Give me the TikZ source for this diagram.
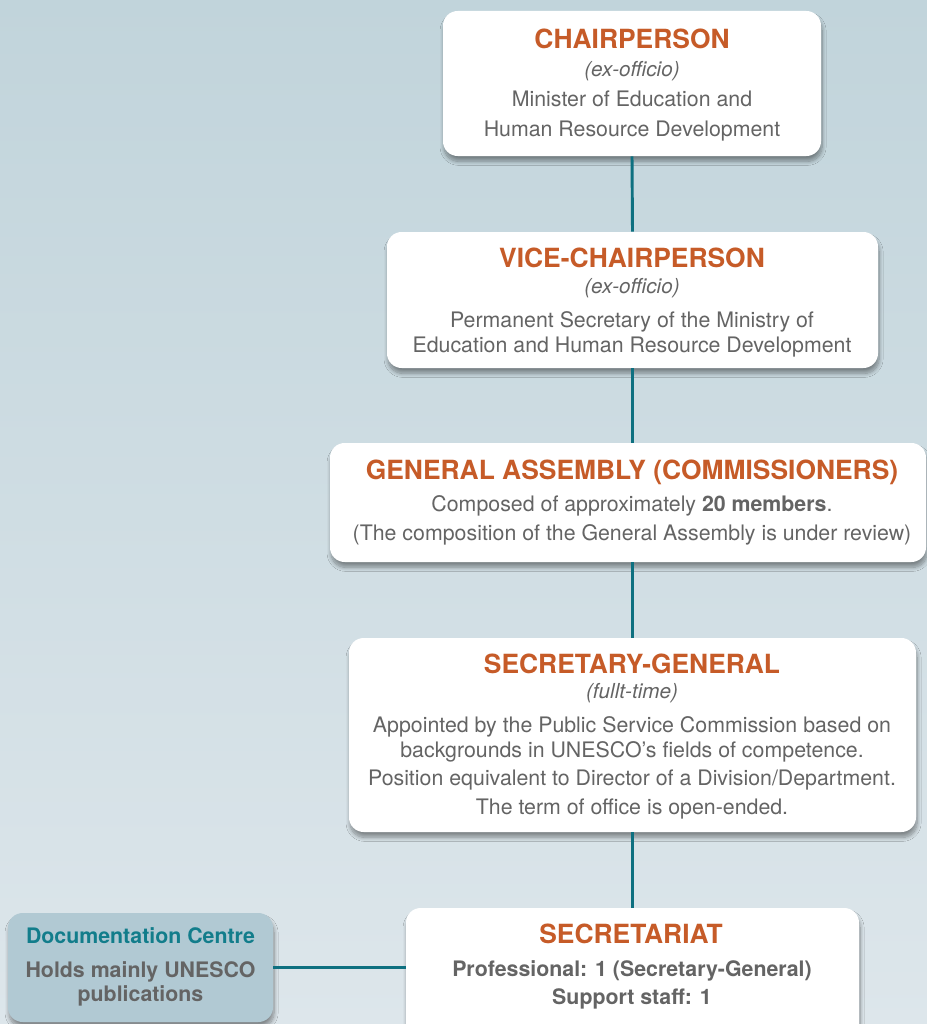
\documentclass[tikz,border=0pt]{standalone}
\usepackage{fontspec}
\setmainfont{TeX Gyre Heros}
\usetikzlibrary{shadows.blur,fit}
\definecolor{bgtop}{RGB}{193,212,219}
\definecolor{bgbot}{RGB}{221,230,235}
\definecolor{orangeT}{RGB}{198,91,40}
\definecolor{grayT}{RGB}{100,100,100}
\definecolor{tealT}{RGB}{18,125,139}
\definecolor{lineC}{RGB}{14,112,128}
\definecolor{docfill}{RGB}{177,201,211}
\begin{document}
\begin{tikzpicture}[x=0.75pt,y=-0.75pt,
  box/.style={draw=none, fill=white, rounded corners=11pt, inner sep=0pt,
    blur shadow={shadow xshift=0.8pt, shadow yshift=-4pt, shadow blur radius=3pt,
      shadow blur steps=10, shadow opacity=40}},
  conn/.style={draw=lineC, line width=2.2pt},
  txt/.style={anchor=base, inner sep=0pt, text=grayT, font=\fontsize{16}{19}\selectfont},
  ttl/.style={anchor=base, inner sep=0pt, text=orangeT, font=\bfseries\fontsize{19.8}{23}\selectfont},
  ital/.style={anchor=base, inner sep=0pt, text=grayT, font=\itshape\fontsize{15.5}{18}\selectfont},
  btxt/.style={anchor=base, inner sep=0pt, text=grayT, font=\bfseries\fontsize{16}{19}\selectfont},
  dttl/.style={anchor=base, inner sep=0pt, text=tealT, font=\bfseries\fontsize{16}{19}\selectfont}]
\useasboundingbox (0,0) rectangle (927,1024);
\clip (0,0) rectangle (927,1024);
\fill[top color=bgtop, bottom color=bgbot] (-2,-2) rectangle (929,1026);

% boxes (positions)
\node[box, fit={(443,11) (821,156)}] (chair) {};
\node[box, fit={(387,232) (878,368)}] (vice) {};
\node[box, fit={(330,443) (926,562)}] (ga) {};
\node[box, fit={(349,638) (916,832)}] (sg) {};
\node[box, fit={(406,908) (859,1050)}] (sec) {};
\node[box, fill=docfill, fit={(8,913) (273,1022)}] (doc) {};

% connectors
\draw[conn] (chair.south) -- (vice.north);
\draw[conn] (vice.south) -- (vice.south |- ga.north);
\draw[conn] (sg.north) -- (sg.north |- ga.south);
\draw[conn] (sg.south) -- (sec.north);
\draw[conn] (doc.east) -- (doc.east -| sec.west);

% chairperson
\node[ttl] (chairT) at (632,49) {CHAIRPERSON};
\node[ital] (chairI) at (632,76) {(ex-officio)};
\node[txt] (chairL1) at (632,107) {Minister of Education and};
\node[txt] (chairL2) at (632,137) {Human Resource Development};

% vice
\node[ttl] (viceT) at (632,267) {VICE-CHAIRPERSON};
\node[ital] (viceI) at (632,293) {(ex-officio)};
\node[txt] (viceL1) at (632,327) {Permanent Secretary of the Ministry of};
\node[txt] (viceL2) at (632,352) {Education and Human Resource Development};

% general assembly
\node[ttl] (gaT) at (632,479) {GENERAL ASSEMBLY (COMMISSIONERS)};
\node[txt] (gaL1) at (632,511) {Composed of approximately \textbf{20 members}.};
\node[txt] (gaL2) at (632,540) {(The composition of the General Assembly is under review)};

% secretary-general
\node[ttl] (sgT) at (632,673) {SECRETARY-GENERAL};
\node[ital] (sgI) at (632,698) {(fullt-time)};
\node[txt] (sgL1) at (632,732) {Appointed by the Public Service Commission based on};
\node[txt] (sgL2) at (632,757) {backgrounds in UNESCO’s fields of competence.};
\node[txt] (sgL3) at (632,785) {Position equivalent to Director of a Division/Department.};
\node[txt] (sgL4) at (632,814) {The term of office is open-ended.};

% secretariat
\node[ttl] (secT) at (631,943) {SECRETARIAT};
\node[btxt] (secL1) at (632,976) {Professional: 1 (Secretary-General)};
\node[btxt] (secL2) at (632,1004) {Support staff: 1};

% documentation centre
\node[dttl] (docT) at (140.5,943) {Documentation Centre};
\node[btxt] (docL1) at (140.5,977) {Holds mainly UNESCO};
\node[btxt] (docL2) at (140.5,1001) {publications};
\end{tikzpicture}
\end{document}
